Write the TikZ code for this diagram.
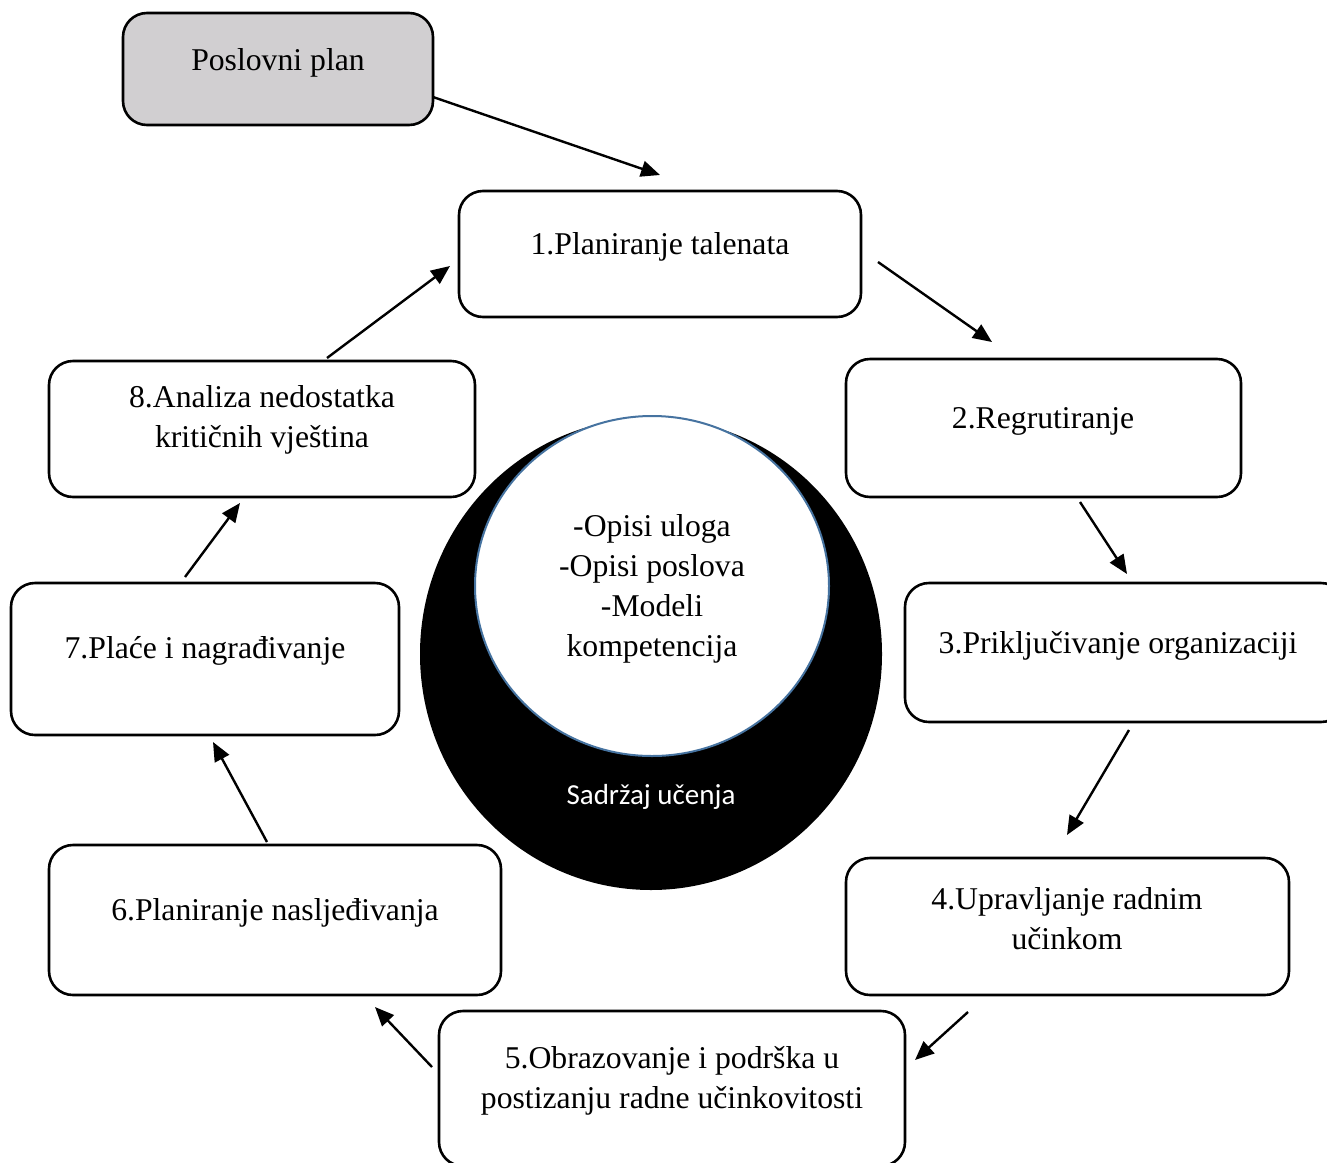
\documentclass[tikz,border=0pt]{standalone}
\usepackage{fontspec}
\setmainfont{Liberation Serif}
\newfontfamily\sadfont{Carlito}
\usetikzlibrary{arrows.meta,shapes.geometric}
\definecolor{planfill}{RGB}{209,207,209}
\definecolor{ringblue}{RGB}{70,115,160}

\tikzset{
  box/.style={draw=black, line width=2.6pt, rounded corners=24pt, fill=white},
  txt/.style={align=center, inner sep=0pt, font=\fontsize{31.7}{40}\selectfont},
  arr/.style={line width=2.4pt, -{Triangle[length=19pt,width=16pt]}}
}

\begin{document}
\begin{tikzpicture}[x=1pt,y=-1pt]
\useasboundingbox (0,0) rectangle (1327,1162);

% centre: learning content
\node[ellipse, fill=black, minimum width=462pt, minimum height=472pt,
    inner sep=0pt] (content) at (651,654) {};
\node[ellipse, fill=white, draw=ringblue, line width=2pt,
    minimum width=354pt, minimum height=340pt] (docs) at (652,586) {};
\node[txt] (docsText) at (652,589)
    {-Opisi uloga\\-Opisi poslova\\-Modeli\\kompetencija};
\node[text=white, font=\sadfont\fontsize{29}{34}\selectfont]
    (contentText) at (651,797) {Sadržaj učenja};

% boxes
\node[box, fill=planfill, minimum width=310pt, minimum height=112pt]
    (plan) at (278,69) {};
\node[txt] (planText) at (278,63) {Poslovni plan};

\node[box, minimum width=402pt, minimum height=126pt] (b1) at (660,254) {};
\node[txt] (t1) at (660,247) {1.Planiranje talenata};

\node[box, minimum width=395pt, minimum height=138pt] (b2) at (1043.5,428) {};
\node[txt] (t2) at (1043,421) {2.Regrutiranje};

\node[box, minimum width=440pt, minimum height=139pt] (b3) at (1125,652.5) {};
\node[txt] (t3) at (1118,646) {3.Priključivanje organizaciji};

\node[box, minimum width=443pt, minimum height=137pt] (b4) at (1067.5,926.5) {};
\node[txt] (t4) at (1067,919) {4.Upravljanje radnim\\učinkom};

\node[box, minimum width=466pt, minimum height=155pt] (b5) at (672,1088.5) {};
\node[txt] (t5) at (672,1081) {5.Obrazovanje i podrška u\\postizanju radne učinkovitosti};

\node[box, minimum width=452pt, minimum height=150pt] (b6) at (275,920) {};
\node[txt] (t6) at (275,913) {6.Planiranje nasljeđivanja};

\node[box, minimum width=388pt, minimum height=152pt] (b7) at (205,659) {};
\node[txt] (t7) at (205,651) {7.Plaće i nagrađivanje};

\node[box, minimum width=426pt, minimum height=136pt] (b8) at (262,429) {};
\node[txt] (t8) at (262,420) {8.Analiza nedostatka\\kritičnih vještina};

% arrow ends
\coordinate (planOut) at (433,97);   \coordinate (b1In) at (660,175);
\coordinate (b1Out) at (878,262);    \coordinate (b2In) at (992,342);
\coordinate (b2Out) at (1080,502);   \coordinate (b3In) at (1127,574);
\coordinate (b3Out) at (1129,730);   \coordinate (b4In) at (1067,835);
\coordinate (b4Out) at (968,1012);   \coordinate (b5In) at (915,1060);
\coordinate (b5Out) at (432,1067);   \coordinate (b6In) at (375,1007);
\coordinate (b6Out) at (267,842);    \coordinate (b7In) at (213,742);
\coordinate (b7Out) at (185,577);    \coordinate (b8In) at (240,503);
\coordinate (b8Out) at (327,358);    \coordinate (b1In2) at (450,266);

% cycle
\draw[arr] (planOut) -- (b1In);
\draw[arr] (b1Out) -- (b2In);
\draw[arr] (b2Out) -- (b3In);
\draw[arr] (b3Out) -- (b4In);
\draw[arr] (b4Out) -- (b5In);
\draw[arr] (b5Out) -- (b6In);
\draw[arr] (b6Out) -- (b7In);
\draw[arr] (b7Out) -- (b8In);
\draw[arr] (b8Out) -- (b1In2);

\end{tikzpicture}
\end{document}
